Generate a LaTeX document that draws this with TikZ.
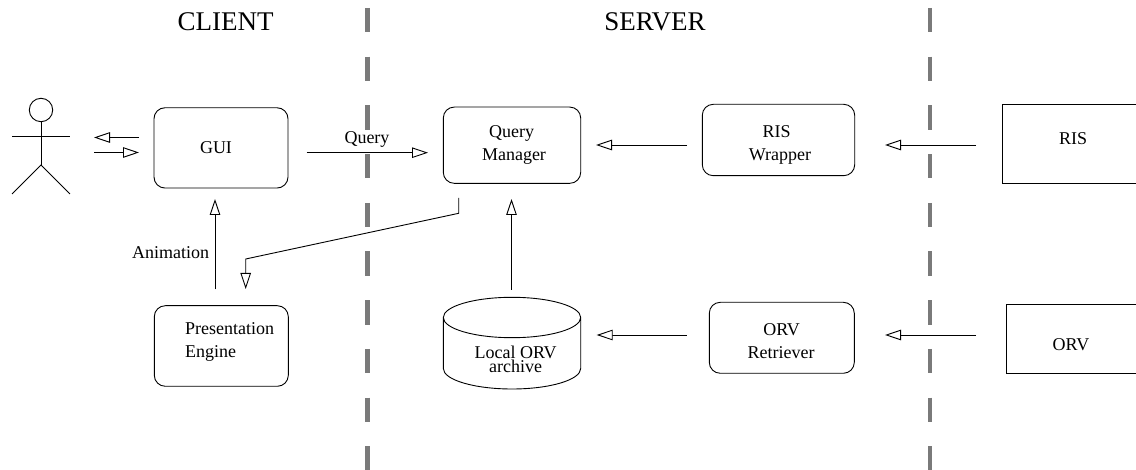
\documentclass[tikz,border=0pt]{standalone}
\usepackage{fontspec}
\setmainfont{Liberation Serif}
\usetikzlibrary{arrows.meta}
\tikzset{
  line/.style={line width=0.9pt,draw=black},
  arr/.style={line,-{Triangle[length=16pt,width=10.5pt,fill=white,line width=0.9pt]}},
  rbox/.style={line,rounded corners=11pt,inner sep=0pt,outer sep=0pt,rectangle},
  sbox/.style={line,inner sep=0pt,outer sep=0pt,rectangle},
  lab/.style={font=\fontsize{18}{22}\selectfont,inner sep=0pt,anchor=base},
  title/.style={font=\fontsize{27}{30}\selectfont,inner sep=0pt,anchor=base},
  divider/.style={line width=4.6pt,draw=black!52,dash pattern=on 24.35pt off 24.35pt},
}
\begin{document}
\begin{tikzpicture}[x=1pt,y=-1pt]
\useasboundingbox (0,0) rectangle (1136,470);
% dividers
\coordinate (d1t) at (367.5,8); \coordinate (d1b) at (367.5,470);
\coordinate (d2t) at (930,8); \coordinate (d2b) at (930,470);
\draw[divider] (d1t) -- (d1b);
\draw[divider] (d2t) -- (d2b);
% titles
\node[title] (client) at (225.5,31) {CLIENT};
\node[title] (server) at (655,31) {SERVER};
% actor
\node[line,circle,minimum size=23.4pt,inner sep=0pt,outer sep=0pt] (head) at (41,110) {};
\coordinate (hip) at (41,165);
\coordinate (arml) at (12,136); \coordinate (armr) at (70,136);
\coordinate (legl) at (12,194); \coordinate (legr) at (70,194);
\draw[line] (head.south) -- (hip);
\draw[line] (arml) -- (armr);
\draw[line] (legl) -- (hip) -- (legr);
% boxes
\node[rbox,minimum width=134pt,minimum height=80.3pt] (gui) at (221,147.9) {};
\node[rbox,minimum width=137.4pt,minimum height=76.3pt] (qm) at (512,145.2) {};
\node[rbox,minimum width=152.4pt,minimum height=71.4pt] (wrap) at (778.5,140) {};
\node[sbox,minimum width=140pt,minimum height=78.7pt,anchor=west] (ris) at (1002.7,143.7) {};
\node[rbox,minimum width=134pt,minimum height=80.6pt] (pres) at (221.3,346) {};
\node[rbox,minimum width=145pt,minimum height=71pt] (retr) at (781.8,337.8) {};
\node[sbox,minimum width=140pt,minimum height=69.3pt,anchor=west] (orv) at (1006.3,338.7) {};
% cylinder
\node[inner sep=0pt,minimum width=137.4pt,minimum height=91.7pt] (arch) at (512,343.2) {};
\draw[line] (443.3,368.5) arc[start angle=180,end angle=360,x radius=68.7pt,y radius=20.5pt]
  -- (580.7,317.5) arc[start angle=0,end angle=360,x radius=68.7pt,y radius=20.2pt]
  (443.3,317.5) -- (443.3,368.5);
% labels
\node[lab] (tgui) at (216,153.3) {GUI};
\node[lab] (tq1) at (511.7,138) {Query};
\node[lab] (tq2) at (514,160.5) {Manager};
\node[lab] (tw1) at (776.7,137.3) {RIS};
\node[lab] (tw2) at (780,160.7) {Wrapper};
\node[lab] (tris) at (1073,145) {RIS};
\node[lab,anchor=base west] (tp1) at (185,335) {Presentation};
\node[lab,anchor=base west] (tp2) at (185,357.7) {Engine};
\node[lab] (ta1) at (515.7,358.3) {Local ORV};
\node[lab] (ta2) at (515.7,372.7) {archive};
\node[lab] (tr1) at (781.7,335.7) {ORV};
\node[lab] (tr2) at (781,358.3) {Retriever};
\node[lab] (torv) at (1071,351) {ORV};
\node[lab] (tquery) at (367,144) {Query};
\node[lab,anchor=base west] (tanim) at (132,259) {Animation};
% connectors
\coordinate (a1s) at (139,137.5); \coordinate (a1e) at (94,137.5);
\coordinate (a2s) at (94,152.5); \coordinate (a2e) at (139,152.5);
\draw[arr] (a1s) -- (a1e);
\draw[arr] (a2s) -- (a2e);
\coordinate (qs) at (306.5,152.7); \coordinate (qe) at (428,152.7);
\draw[arr] (qs) -- (qe);
\coordinate (w1s) at (687,145); \coordinate (w1e) at (596,145);
\draw[arr] (w1s) -- (w1e);
\coordinate (r1s) at (976,145); \coordinate (r1e) at (885,145);
\draw[arr] (r1s) -- (r1e);
\coordinate (o1s) at (686.7,335); \coordinate (o1e) at (596.7,335);
\draw[arr] (o1s) -- (o1e);
\coordinate (o2s) at (976,335); \coordinate (o2e) at (885,335);
\draw[arr] (o2s) -- (o2e);
\coordinate (ans) at (215,289.3); \coordinate (ane) at (215,199);
\draw[arr] (ans) -- (ane);
\coordinate (las) at (511.5,290); \coordinate (lae) at (511.5,199);
\draw[arr] (las) -- (lae);
\coordinate (ps) at (458.7,198); \coordinate (pb1) at (458.7,213.3);
\coordinate (pb2) at (245.7,259); \coordinate (pe) at (245.7,289);
\draw[arr] (ps) -- (pb1) -- (pb2) -- (pe);
\end{tikzpicture}
\end{document}
